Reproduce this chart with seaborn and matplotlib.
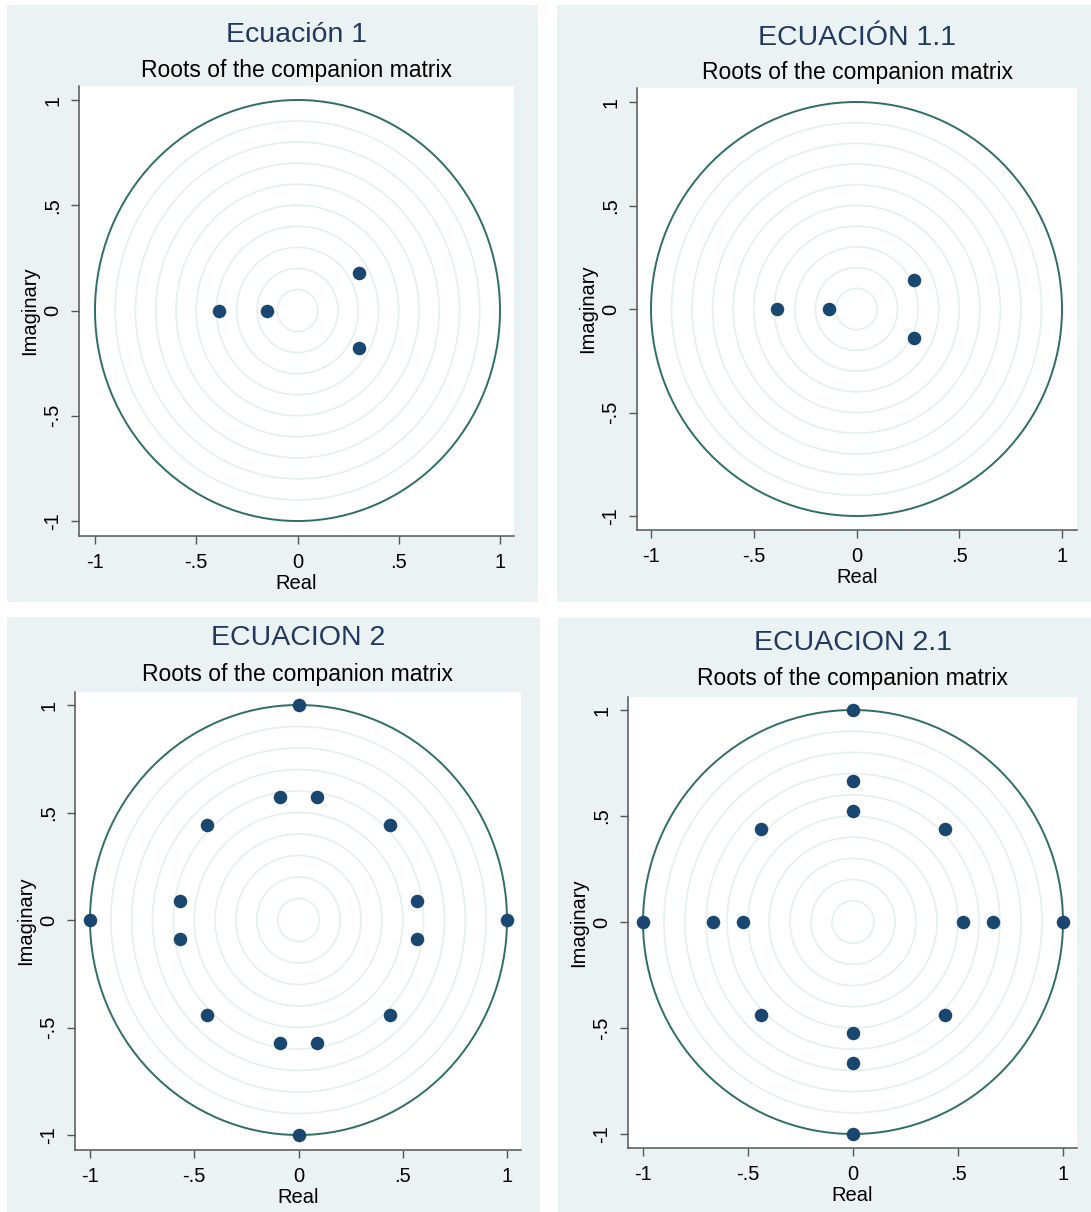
import numpy as np
import pandas as pd
import matplotlib
matplotlib.use("Agg")
import matplotlib.pyplot as plt
import seaborn as sns
from matplotlib.patches import Circle, Rectangle

# ---------------- data ----------------
titles = ["Ecuación 1", "ECUACIÓN 1.1", "ECUACION 2", "ECUACION 2.1"]
subtitle = "Roots of the companion matrix"
xlabel = "Real"
ylabel = "Imaginary"
tick_values = [-1, -0.5, 0, 0.5, 1]
tick_labels = ["-1", "-.5", "0", ".5", "1"]
grid_radii = [0.1, 0.2, 0.3, 0.4, 0.5, 0.6, 0.7, 0.8, 0.9]

eq1_real = [-0.39, -0.15, 0.305, 0.305]
eq1_imag = [0.0, 0.0, 0.18, -0.18]

eq11_real = [-0.385, -0.135, 0.28, 0.28]
eq11_imag = [0.0, 0.0, 0.14, -0.14]

eq2_real = [1.0, -1.0, 0.0, 0.0, 0.09, -0.09, 0.09, -0.09,
            0.44, -0.44, 0.44, -0.44, 0.57, -0.57, 0.57, -0.57]
eq2_imag = [0.0, 0.0, 1.0, -1.0, 0.57, 0.57, -0.57, -0.57,
            0.44, 0.44, -0.44, -0.44, 0.09, 0.09, -0.09, -0.09]

eq21_real = [1.0, -1.0, 0.0, 0.0, 0.0, 0.0, 0.0, 0.0,
             0.665, -0.665, 0.525, -0.525, 0.44, -0.44, 0.44, -0.44]
eq21_imag = [0.0, 0.0, 1.0, -1.0, 0.665, -0.665, 0.525, -0.525,
             0.0, 0.0, 0.0, 0.0, 0.44, 0.44, -0.44, -0.44]

panels_data = [(eq1_real, eq1_imag), (eq11_real, eq11_imag),
               (eq2_real, eq2_imag), (eq21_real, eq21_imag)]

# ---------------- style ----------------
W, H = 1091, 1212
BG = "#EAF2F3"
NAVY = "#1A476F"
TITLEC = "#22395F"
UNIT = "#2E6E64"
GRID = "#E5EFEF"
AXC = "#555555"

sns.set_theme(style="white")
plt.rcParams["font.family"] = ["Liberation Sans", "DejaVu Sans"]

# layout in pixels: bg box, axes box, x tick px for -1 and 1, y tick px for 1 and -1, title y, subtitle y
layout = [
    dict(bg=(7, 5, 538, 602), ax=(79, 86, 514, 536), xt=(95, 500), yt=(100, 521), ty=35, sy=70),
    dict(bg=(557, 5, 1091, 602), ax=(637, 88, 1077, 530), xt=(651, 1062), yt=(102, 516), ty=38, sy=73),
    dict(bg=(7, 617, 540, 1212), ax=(75, 692, 521, 1150), xt=(90, 507), yt=(705, 1135), ty=638, sy=674),
    dict(bg=(558, 618, 1091, 1212), ax=(628, 697, 1077, 1148), xt=(643, 1063), yt=(710, 1134), ty=643, sy=679),
]

fig = plt.figure(figsize=(W / 100, H / 100), dpi=100, facecolor="white")

for i, (lay, (re, im)) in enumerate(zip(layout, panels_data)):
    bx0, by0, bx1, by1 = lay["bg"]
    fig.add_artist(Rectangle((bx0 / W, 1 - by1 / H), (bx1 - bx0) / W, (by1 - by0) / H,
                             transform=fig.transFigure, facecolor=BG, edgecolor="none", zorder=-5))
    ax0, ay0, ax1, ay1 = lay["ax"]
    ax = fig.add_axes([ax0 / W, 1 - ay1 / H, (ax1 - ax0) / W, (ay1 - ay0) / H])
    ax.set_facecolor("white")

    xm1, xp1 = lay["xt"]
    xs = (xp1 - xm1) / 2.0
    xc = (xp1 + xm1) / 2.0
    ax.set_xlim((ax0 - xc) / xs, (ax1 - xc) / xs)
    yp1, ym1 = lay["yt"]
    ys = (ym1 - yp1) / 2.0
    yc = (ym1 + yp1) / 2.0
    ax.set_ylim((yc - ay1) / ys, (yc - ay0) / ys)

    for r in grid_radii:
        ax.add_patch(Circle((0, 0), r, fill=False, edgecolor=GRID, linewidth=1.2, zorder=1))
    ax.add_patch(Circle((0, 0), 1.0, fill=False, edgecolor=UNIT, linewidth=1.4, zorder=2))

    df = pd.DataFrame({"Real": re, "Imaginary": im})
    sns.scatterplot(data=df, x="Real", y="Imaginary", ax=ax, color=NAVY, s=95,
                    linewidth=0, zorder=5, legend=False)

    for s in ["top", "right"]:
        ax.spines[s].set_visible(False)
    for s in ["left", "bottom"]:
        ax.spines[s].set_color(AXC)
        ax.spines[s].set_linewidth(1.1)

    ax.set_xticks(tick_values)
    ax.set_xticklabels(tick_labels)
    ax.set_yticks(tick_values)
    ax.set_yticklabels(tick_labels, rotation=90, va="center")
    ax.tick_params(axis="both", which="major", direction="out", length=6, width=1.0,
                   color=AXC, labelsize=14.5, labelcolor="black", pad=6,
                   bottom=True, left=True)
    ax.set_xlabel(xlabel, fontsize=14.5, color="black", labelpad=2)
    ax.set_ylabel(ylabel, fontsize=14.5, color="black", labelpad=3)
    ax.grid(False)

    cx = (ax0 + ax1) / 2.0 / W
    fig.text(cx, 1 - lay["ty"] / H, titles[i], ha="center", va="center",
             fontsize=20.5, color=TITLEC)
    fig.text(cx, 1 - lay["sy"] / H, subtitle, ha="center", va="center",
             fontsize=16.5, color="black")

fig.savefig("out.png", dpi=100, facecolor="white")
